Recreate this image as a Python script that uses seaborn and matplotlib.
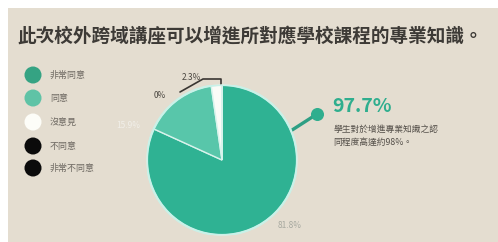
import matplotlib
matplotlib.use("Agg")
import matplotlib.pyplot as plt
import seaborn as sns
import pandas as pd
import numpy as np

categories = ["非常同意", "同意", "沒意見", "不同意", "非常不同意"]
values = [81.8, 15.9, 2.3, 0.0, 0.0]
value_labels = ["81.8%", "15.9%", "2.3%", "0%", "0%"]
title = "此次校外跨域講座可以增進所對應學校課程的專業知識。"
highlight = "97.7%"
note_lines = ["學生對於增進專業知識之認", "同程度高達約98%。"]

slice_colors = ["#2fb293", "#58c6aa", "#fbfbf7", "#111111", "#111111"]
legend_colors = ["#35a383", "#5fc3a6", "#fdfdf8", "#0b0b0b", "#0b0b0b"]

sns.set_theme(style="white")
plt.rcParams["font.family"] = ["Noto Sans CJK TC", "DejaVu Sans"]

W, H = 498, 242
fig = plt.figure(figsize=(W / 100, H / 100), dpi=100, facecolor="white")

# background panel
bg = fig.add_axes([8 / W, 0, (W - 8) / W, (H - 8) / H])
bg.set_facecolor("#e4ddd0")
bg.set_xticks([]); bg.set_yticks([])
for s in bg.spines.values():
    s.set_visible(False)

# overlay axes in pixel coords
ov = fig.add_axes([0, 0, 1, 1])
ov.set_xlim(0, W); ov.set_ylim(H, 0)
ov.axis("off")
ov.patch.set_alpha(0)

ov.text(17, 36, title, fontsize=13.4, fontweight="bold", color="#3d3a36",
        ha="left", va="center")

# legend
leg_y = [75, 98, 122, 146, 168]
leg_df = pd.DataFrame({"x": [33] * 5, "y": leg_y, "cat": categories})
sns.scatterplot(data=leg_df, x="x", y="y", hue="cat", palette=legend_colors,
                s=150, edgecolor="none", legend=False, ax=ov, zorder=5)
for yy, c in zip(leg_y, categories):
    ov.text(50, yy, c, fontsize=6.5, color="#6f6a63", ha="left", va="center")

# pie
cx, cy, r = 222, 160, 75
pie_ax = fig.add_axes([(cx - r) / W, (H - cy - r) / H, 2 * r / W, 2 * r / H])
pie_ax.patch.set_alpha(0)
wedges, _ = pie_ax.pie(values, colors=slice_colors, startangle=90, counterclock=False,
                       radius=1.0,
                       wedgeprops=dict(edgecolor="#d8f3ec", linewidth=1.0))
pie_ax.add_patch(plt.Circle((0, 0), 1.0, fill=False, ec="#c9f1e8", lw=1.6))
pie_ax.set_xlim(-1.0, 1.0); pie_ax.set_ylim(-1.0, 1.0)
pie_ax.axis("off")

ov.text(128, 126, value_labels[1], fontsize=6, color="#f1efe9", ha="center", va="center")
ov.text(290, 226, value_labels[0], fontsize=6, color="#a7a9a0", ha="center", va="center")
ov.text(191, 78, value_labels[2], fontsize=6, color="#4a4640", ha="center", va="center")
ov.text(160, 96, value_labels[3], fontsize=6, color="#4a4640", ha="center", va="center")
ov.plot([221, 221, 203, 180], [86, 79, 79, 92], color="#3a3632", lw=1.2)

# highlight callout
ov.plot([289, 317], [132, 114], color="#2e9f84", lw=2.4, solid_capstyle="round")
ov.scatter([317], [114], s=70, color="#2fae8e", zorder=6)
ov.text(332, 106, highlight, fontsize=14, fontweight="bold", color="#2fae8e",
        ha="left", va="center")
ov.text(333, 129, note_lines[0], fontsize=6.3, color="#55504a", ha="left", va="center")
ov.text(333, 142, note_lines[1], fontsize=6.3, color="#55504a", ha="left", va="center")

fig.savefig("out.png", dpi=100, facecolor="white")
